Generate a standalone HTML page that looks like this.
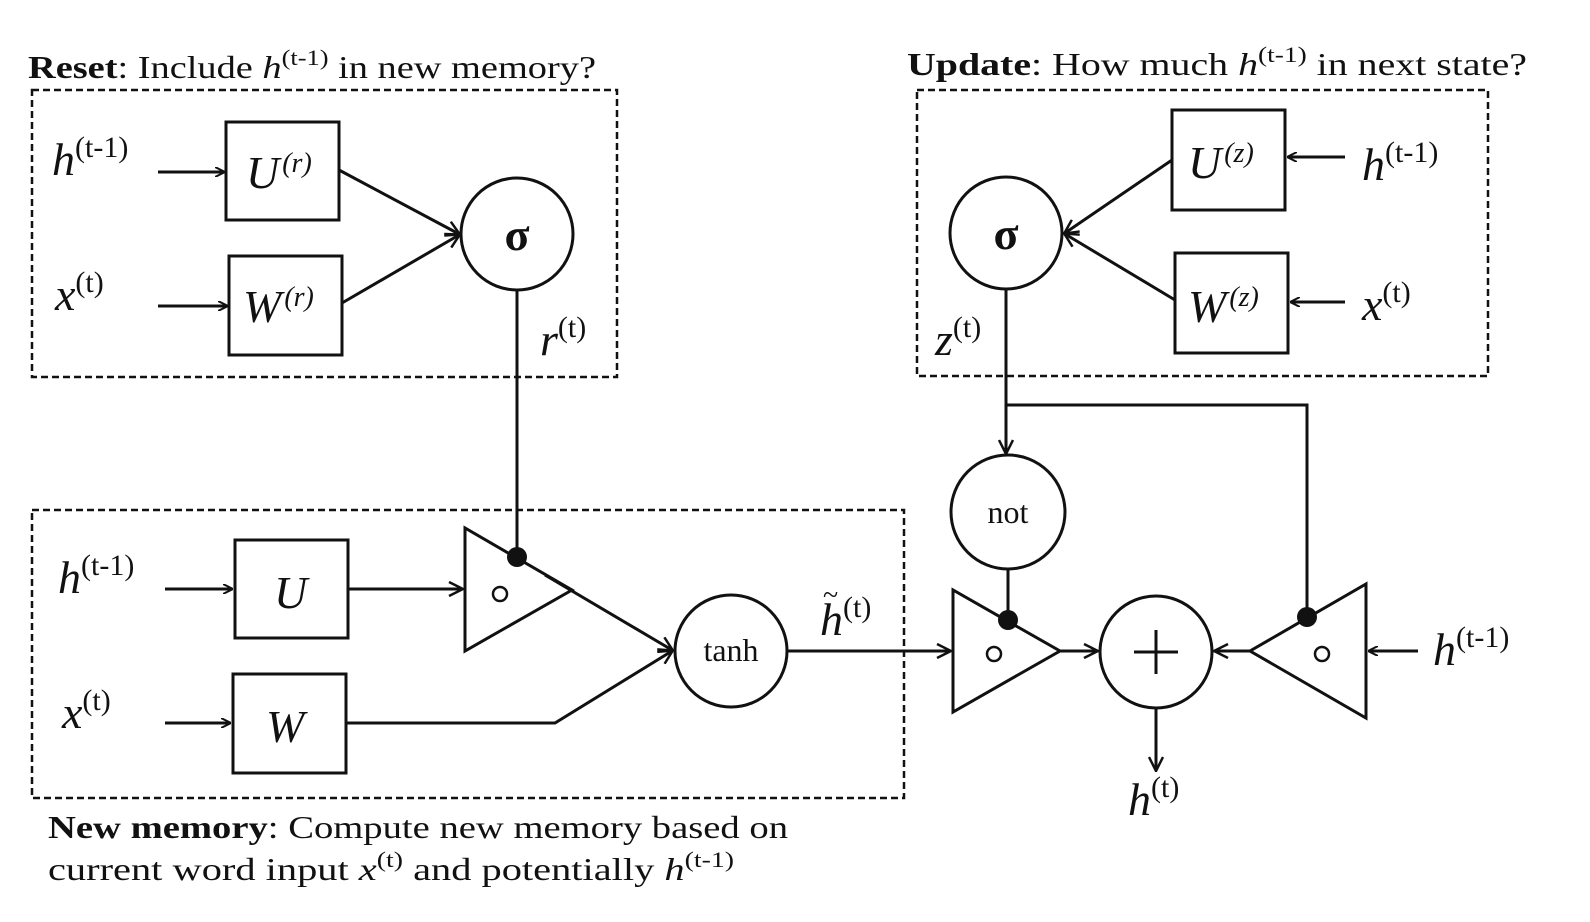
<!DOCTYPE html>
<html><head><meta charset="utf-8"><style>
html,body{margin:0;padding:0;background:#fff;}
svg{display:block;}
text{font-family:"Liberation Serif",serif;fill:#111;}
.it{font-style:italic;}
</style></head><body>
<svg width="1590" height="922" viewBox="0 0 1590 922" xmlns="http://www.w3.org/2000/svg">
<defs>
<marker id="a" markerWidth="10" markerHeight="10" refX="9" refY="5" orient="auto" markerUnits="userSpaceOnUse" viewBox="0 0 10 10">
<path d="M0,0 L10,5 L0,10" fill="none" stroke="#111" stroke-width="2"/>
</marker>
<marker id="b" markerWidth="16" markerHeight="16" refX="14" refY="8" orient="auto" markerUnits="userSpaceOnUse" viewBox="0 0 16 16">
<path d="M1,1 L15,8 L1,15" fill="none" stroke="#111" stroke-width="2.5"/>
</marker>
</defs>
<g fill="none" stroke="#111" stroke-width="2.5" stroke-dasharray="7,4">
<rect x="32" y="90" width="585" height="287"/>
<rect x="917" y="90" width="571" height="286"/>
<rect x="32" y="510" width="872" height="288"/>
</g>
<!-- titles -->
<text x="28" y="78" font-size="32" textLength="568" lengthAdjust="spacingAndGlyphs"><tspan font-weight="bold">Reset</tspan>: Include <tspan class="it">h</tspan><tspan font-size="22" dy="-13">(t-1)</tspan><tspan dy="13"> in new memory?</tspan></text>
<text x="907" y="75" font-size="32" textLength="620" lengthAdjust="spacingAndGlyphs"><tspan font-weight="bold">Update</tspan>: How much <tspan class="it">h</tspan><tspan font-size="22" dy="-13">(t-1)</tspan><tspan dy="13"> in next state?</tspan></text>
<text x="48" y="838" font-size="32" textLength="740" lengthAdjust="spacingAndGlyphs"><tspan font-weight="bold">New memory</tspan>: Compute new memory based on</text>
<text x="48" y="880" font-size="32" textLength="686" lengthAdjust="spacingAndGlyphs">current word input <tspan class="it">x</tspan><tspan font-size="22" dy="-13">(t)</tspan><tspan dy="13"> and potentially </tspan><tspan class="it">h</tspan><tspan font-size="22" dy="-13">(t-1)</tspan></text>

<g fill="none" stroke="#111" stroke-width="3">
<rect x="226" y="122" width="113" height="98"/>
<rect x="229" y="256" width="113" height="99"/>
<circle cx="517" cy="234" r="56"/>
<line x1="158" y1="172" x2="224" y2="172" marker-end="url(#a)"/>
<line x1="158" y1="306" x2="227" y2="306" marker-end="url(#a)"/>
<line x1="339" y1="170" x2="459" y2="234" marker-end="url(#b)"/>
<line x1="342" y1="303" x2="459" y2="235" marker-end="url(#b)"/>
<line x1="517" y1="290" x2="517" y2="557"/>
<rect x="1172" y="110" width="113" height="100"/>
<rect x="1175" y="253" width="113" height="100"/>
<circle cx="1006" cy="233" r="56"/>
<line x1="1345" y1="157" x2="1288" y2="157" marker-end="url(#a)"/>
<line x1="1345" y1="302" x2="1291" y2="302" marker-end="url(#a)"/>
<line x1="1172" y1="160" x2="1065" y2="233" marker-end="url(#b)"/>
<line x1="1175" y1="300" x2="1065" y2="234" marker-end="url(#b)"/>
<line x1="1006" y1="289" x2="1006" y2="453" marker-end="url(#b)"/>
<polyline points="1006,405 1307,405 1307,617"/>
<circle cx="1008" cy="512" r="57"/>
<line x1="1008" y1="569" x2="1008" y2="620"/>
<rect x="235" y="540" width="113" height="98"/>
<rect x="233" y="674" width="113" height="99"/>
<line x1="165" y1="589" x2="232" y2="589" marker-end="url(#a)"/>
<line x1="165" y1="723" x2="230" y2="723" marker-end="url(#a)"/>
<line x1="348" y1="589" x2="462" y2="589" marker-end="url(#b)"/>
<polygon points="465,528 465,651 572,590"/>
<circle cx="500" cy="594" r="7" stroke-width="2.5"/>
<line x1="545" y1="575" x2="672" y2="650" marker-end="url(#b)"/>
<polyline points="346,723 555,723 672,651" marker-end="url(#b)"/>
<circle cx="731" cy="651" r="56"/>
<line x1="787" y1="651" x2="950" y2="651" marker-end="url(#b)"/>
<polygon points="953,590 953,712 1060,651"/>
<circle cx="994" cy="654" r="7" stroke-width="2.5"/>
<line x1="1060" y1="651" x2="1097" y2="651" marker-end="url(#b)"/>
<circle cx="1156" cy="652" r="56"/>
<line x1="1156" y1="630" x2="1156" y2="674"/>
<line x1="1134" y1="652" x2="1178" y2="652"/>
<polygon points="1366,584 1366,718 1250,651"/>
<circle cx="1322" cy="654" r="7" stroke-width="2.5"/>
<line x1="1250" y1="651" x2="1215" y2="651" marker-end="url(#b)"/>
<line x1="1418" y1="651" x2="1369" y2="651" marker-end="url(#a)"/>
<line x1="1156" y1="708" x2="1156" y2="770" marker-end="url(#b)"/>
</g>
<g fill="#111">
<circle cx="517" cy="557" r="10"/>
<circle cx="1008" cy="620" r="10"/>
<circle cx="1307" cy="617" r="10"/>
</g>
<g font-size="46">
<text x="52" y="175"><tspan class="it">h</tspan><tspan font-size="30" dy="-18">(t-1)</tspan></text>
<text x="55" y="310"><tspan class="it">x</tspan><tspan font-size="30" dy="-18">(t)</tspan></text>
<text x="246" y="188"><tspan class="it">U</tspan><tspan font-size="28" dx="3" dy="-16" class="it">(r)</tspan></text>
<text x="243" y="322"><tspan class="it">W</tspan><tspan font-size="28" dx="3" dy="-16" class="it">(r)</tspan></text>
<text x="540" y="355"><tspan class="it">r</tspan><tspan font-size="30" dy="-18">(t)</tspan></text>
<text x="1362" y="180"><tspan class="it">h</tspan><tspan font-size="30" dy="-18">(t-1)</tspan></text>
<text x="1362" y="320"><tspan class="it">x</tspan><tspan font-size="30" dy="-18">(t)</tspan></text>
<text x="1188" y="178"><tspan class="it">U</tspan><tspan font-size="28" dx="3" dy="-16" class="it">(z)</tspan></text>
<text x="1188" y="322"><tspan class="it">W</tspan><tspan font-size="28" dx="3" dy="-16" class="it">(z)</tspan></text>
<text x="935" y="355"><tspan class="it">z</tspan><tspan font-size="30" dy="-18">(t)</tspan></text>
<text x="58" y="593"><tspan class="it">h</tspan><tspan font-size="30" dy="-18">(t-1)</tspan></text>
<text x="62" y="728"><tspan class="it">x</tspan><tspan font-size="30" dy="-18">(t)</tspan></text>
<text x="274" y="608" class="it">U</text>
<text x="266" y="742" class="it">W</text>
<text x="820" y="635"><tspan class="it">h</tspan><tspan font-size="30" dy="-18">(t)</tspan></text>
<text x="1433" y="665"><tspan class="it">h</tspan><tspan font-size="30" dy="-18">(t-1)</tspan></text>
<text x="1128" y="815"><tspan class="it">h</tspan><tspan font-size="30" dy="-18">(t)</tspan></text>
</g>
<text x="823" y="604" font-size="28">~</text>
<text x="517" y="250" font-size="46" font-weight="bold" text-anchor="middle">σ</text>
<text x="1006" y="249" font-size="46" font-weight="bold" text-anchor="middle">σ</text>
<text x="1008" y="523" font-size="32" text-anchor="middle">not</text>
<text x="731" y="661" font-size="32" text-anchor="middle">tanh</text>
</svg>
</body></html>
